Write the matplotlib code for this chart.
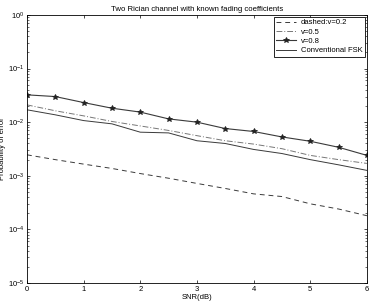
import matplotlib
matplotlib.use("Agg")
import matplotlib.pyplot as plt
import numpy as np

snr = [0, 0.5, 1, 1.5, 2, 2.5, 3, 3.5, 4, 4.5, 5, 5.5, 6]

pe_v02 = [0.00246, 0.0020, 0.00165, 0.00137, 0.0011, 0.0009, 0.00072,
          0.00058, 0.00046, 0.00041, 0.0003, 0.00024, 0.00018]
pe_v05 = [0.021, 0.0163, 0.0131, 0.0103, 0.0085, 0.0070, 0.0056,
          0.0045, 0.0039, 0.0032, 0.0024, 0.0020, 0.0017]
pe_v08 = [0.0323, 0.030, 0.0232, 0.0182, 0.0154, 0.0115, 0.0100,
          0.0076, 0.0067, 0.0053, 0.0044, 0.0034, 0.0024]
pe_fsk = [0.017, 0.0137, 0.0107, 0.0093, 0.0065, 0.0063, 0.0045,
          0.0040, 0.0031, 0.0026, 0.0020, 0.0016, 0.00126]

plt.rcParams.update({
    "font.family": ["Liberation Sans", "DejaVu Sans"],
    "font.size": 5.5,
    "xtick.direction": "in",
    "ytick.direction": "in",
    "xtick.top": True,
    "ytick.right": True,
    "axes.linewidth": 0.6,
})

fig = plt.figure(figsize=(3.74, 3.04), dpi=100)
ax = fig.add_axes([0.072, 0.069, 0.909, 0.882])

lc = "#3a3a3a"
ax.semilogy(snr, pe_v02, linestyle=(0, (5, 4)), color=lc, linewidth=0.7,
            label="dashed:v=0.2")
ax.semilogy(snr, pe_v05, linestyle=(0, (6, 2, 1, 2)), color="#777777", linewidth=0.7,
            label="v=0.5")
ax.semilogy(snr, pe_v08, linestyle="-", color=lc, linewidth=0.8, marker="*",
            markersize=4, markeredgewidth=0.6, markerfacecolor="#222222",
            markeredgecolor="#222222", label="v=0.8")
ax.semilogy(snr, pe_fsk, linestyle="-", color=lc, linewidth=0.7,
            label="Conventional FSK")

ax.set_xlim(0, 6)
ax.set_ylim(1e-5, 1)
ax.set_xticks(range(0, 7))
ax.tick_params(which="major", length=2.5, width=0.5, pad=2, labelsize=5.5)
ax.tick_params(which="minor", length=1.5, width=0.4)

ax.set_title("Two Rician channel with known fading coefficients", fontsize=5.6, pad=3)
ax.set_xlabel("SNR(dB)", fontsize=5.5, labelpad=1)
ax.set_ylabel("Probability of error", fontsize=5.5)
ax.yaxis.set_label_coords(-0.062, 0.5)

leg = ax.legend(loc="upper right", fontsize=5.5, frameon=True, fancybox=False,
                edgecolor="black", framealpha=1, borderaxespad=0.25,
                handlelength=2.6, labelspacing=0.25, borderpad=0.3,
                handletextpad=0.6)
leg.get_frame().set_linewidth(0.6)

fig.savefig("out.png", dpi=100)
